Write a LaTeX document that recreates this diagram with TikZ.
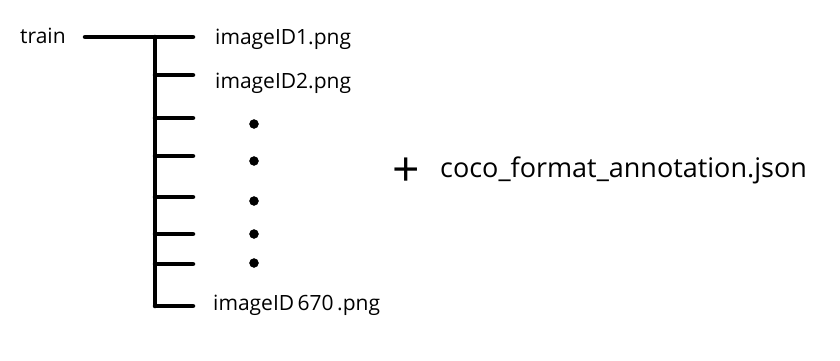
\documentclass[tikz,border=0pt]{standalone}
\usepackage{fontspec}
\setmainfont{Open Sans}
\begin{document}
\begin{tikzpicture}[x=1pt,y=-1pt,
    branch/.style={line width=4.5pt, line cap=round},
    file/.style={anchor=west, inner sep=0pt, font=\fontsize{21}{25}\selectfont}]
    \useasboundingbox (0,0) rectangle (840,361);
    \node[file] (train) at (20,36) {train};
    \coordinate (start) at (85,37);
    \coordinate (top) at (155,37);
    \coordinate (bottom) at (155,306);
    \draw[branch] (start) -- (top);
    \draw[branch] (top) -- (bottom);
    % one branch per file
    \foreach \y [count=\i] in {37,75,118,156,197,234,264,306}
        \coordinate (b\i) at (193,\y);
    \foreach \i in {1,...,8}
        \draw[branch] (top |- b\i) -- (b\i);
    \node[file] (img1) at (215,39) {imageID1.png};
    \node[file] (img2) at (215,83) {imageID2.png};
    \node[file] (img670) at (213,305) {imageID\,670\,.png};
    % skipped files
    \foreach \y in {124,161,201,234,263}
        \filldraw (254,\y) circle (4.5pt);
    \node[inner sep=0pt, font=\fontsize{48}{48}\selectfont] (plus) at (406,172) {+};
    \node[file, font=\fontsize{27}{31}\selectfont] (coco) at (440,170) {coco\_format\_annotation.json};
\end{tikzpicture}
\end{document}
